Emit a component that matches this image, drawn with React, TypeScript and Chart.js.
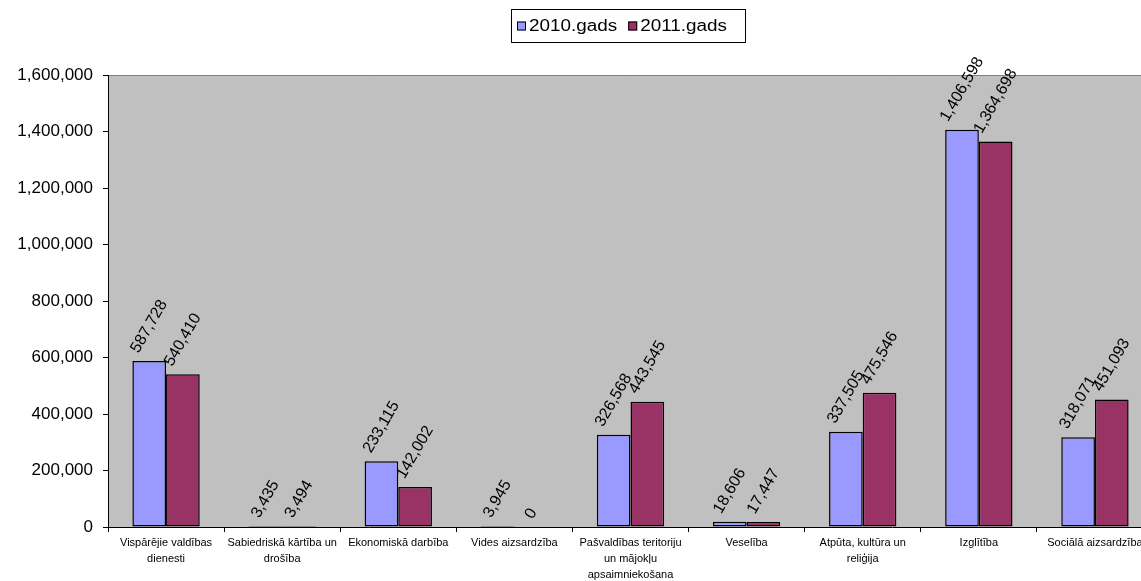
import React, { useEffect, useRef } from "react";
import { Chart, registerables } from "chart.js";

Chart.register(...registerables);

const categories: string[][] = [
  ["Vispārējie valdības", "dienesti"],
  ["Sabiedriskā kārtība un", "drošība"],
  ["Ekonomiskā darbība"],
  ["Vides aizsardzība"],
  ["Pašvaldības teritoriju", "un mājokļu", "apsaimniekošana"],
  ["Veselība"],
  ["Atpūta, kultūra un", "reliģija"],
  ["Izglītība"],
  ["Sociālā aizsardzība"],
];

const seriesNames = ["2010.gads", "2011.gads"];
const values2010 = [587728, 3435, 233115, 3945, 326568, 18606, 337505, 1406598, 318071];
const values2011 = [540410, 3494, 142002, 0, 443545, 17447, 475546, 1364698, 451093];
const colors = ["#9999FF", "#993366"];

const yMin = 0;
const yMax = 1600000;
const yStep = 200000;

const FONT = "'Liberation Sans', Arial, sans-serif";

const fmt = (v: number) => v.toLocaleString("en-US");

const plotBg = {
  id: "plotBg",
  beforeDraw(chart: any) {
    const { ctx, chartArea } = chart;
    ctx.save();
    ctx.fillStyle = "#C0C0C0";
    ctx.fillRect(chartArea.left, chartArea.top, chartArea.right - chartArea.left, chartArea.bottom - chartArea.top);
    ctx.strokeStyle = "#808080";
    ctx.lineWidth = 1;
    ctx.beginPath();
    ctx.moveTo(chartArea.left, chartArea.top + 0.5);
    ctx.lineTo(chartArea.right, chartArea.top + 0.5);
    ctx.stroke();
    ctx.restore();
  },
};

const valueLabels = {
  id: "valueLabels",
  afterDatasetsDraw(chart: any) {
    const { ctx } = chart;
    const ang = (60 * Math.PI) / 180;
    ctx.save();
    ctx.font = `16px ${FONT}`;
    ctx.fillStyle = "#000";
    ctx.textAlign = "center";
    ctx.textBaseline = "middle";
    chart.data.datasets.forEach((ds: any, di: number) => {
      const meta = chart.getDatasetMeta(di);
      meta.data.forEach((bar: any, i: number) => {
        const txt = fmt(ds.data[i]);
        const w = ctx.measureText(txt).width;
        const h = 14;
        const cx = bar.x;
        const cy = bar.y - 6 - (w / 2) * Math.sin(ang) - (h / 2) * Math.cos(ang);
        ctx.save();
        ctx.translate(cx, cy);
        ctx.rotate(-ang);
        ctx.fillText(txt, 0, 0);
        ctx.restore();
      });
    });
    ctx.restore();
  },
};

const boxLegend = {
  id: "boxLegend",
  afterDraw(chart: any) {
    const { ctx } = chart;
    ctx.save();
    const bx = 511, by = 9, bw = 234, bh = 33;
    ctx.fillStyle = "#fff";
    ctx.fillRect(bx, by, bw, bh);
    ctx.strokeStyle = "#000";
    ctx.lineWidth = 1;
    ctx.strokeRect(bx + 0.5, by + 0.5, bw, bh);
    ctx.font = `16px ${FONT}`;
    ctx.textBaseline = "middle";
    ctx.textAlign = "left";
    const sx = 1.18;
    let x = bx + 6;
    const cy = by + bh / 2 + 1;
    seriesNames.forEach((name, i) => {
      ctx.fillStyle = colors[i];
      ctx.fillRect(x, cy - 5, 9, 9);
      ctx.strokeStyle = "#000";
      ctx.strokeRect(x + 0.5, cy - 4.5, 8, 8);
      ctx.fillStyle = "#000";
      ctx.save();
      ctx.translate(x + 12, cy);
      ctx.scale(sx, 1);
      ctx.fillText(name, 0, 0);
      ctx.restore();
      x += 12 + ctx.measureText(name).width * sx + 11;
    });
    ctx.restore();
  },
};

export default function App() {
  const ref = useRef<HTMLCanvasElement | null>(null);
  useEffect(() => {
    if (!ref.current) return;
    const chart = new Chart(ref.current, {
      type: "bar",
      data: {
        labels: categories,
        datasets: [
          {
            label: seriesNames[0],
            data: values2010,
            backgroundColor: colors[0],
            borderColor: "#000",
            borderWidth: (c: any) => (c.raw === 0 ? 0 : 1.5),
            borderSkipped: false,
            barPercentage: 1,
            categoryPercentage: 0.58,
          },
          {
            label: seriesNames[1],
            data: values2011,
            backgroundColor: colors[1],
            borderColor: "#000",
            borderWidth: (c: any) => (c.raw === 0 ? 0 : 1.5),
            borderSkipped: false,
            barPercentage: 1,
            categoryPercentage: 0.58,
          },
        ] as any,
      },
      options: {
        animation: false,
        responsive: false,
        layout: { padding: { top: 75, right: 7, left: 0, bottom: 0 } },
        plugins: {
          legend: { display: false },
          tooltip: { enabled: false },
          title: { display: false },
        },
        scales: {
          x: {
            grid: { drawOnChartArea: false, color: "#000", tickLength: 5, offset: true },
            border: { color: "#000", width: 1 },
            ticks: {
              color: "#000",
              font: { family: FONT, size: 11, lineHeight: 1.45 },
              padding: 3,
              maxRotation: 0,
              autoSkip: false,
            },
            afterFit(scale: any) {
              scale.height = 54;
            },
          },
          y: {
            min: yMin,
            max: yMax,
            grid: { drawOnChartArea: false, color: "#000", tickLength: 5 },
            border: { color: "#000", width: 1 },
            ticks: {
              stepSize: yStep,
              color: "#000",
              font: { family: FONT, size: 17 },
              padding: 10,
              callback: (v: any) => fmt(Number(v)),
            },
            afterFit(scale: any) {
              scale.width = 108;
            },
          },
        },
      } as any,
      plugins: [plotBg, valueLabels, boxLegend],
    });
    return () => chart.destroy();
  }, []);
  return (
    <div style={{ position: "fixed", left: 0, top: 0, width: 1141, height: 581, overflow: "hidden", background: "#fff" }}>
      <canvas ref={ref} width={1160} height={581} style={{ display: "block" }} />
    </div>
  );
}
